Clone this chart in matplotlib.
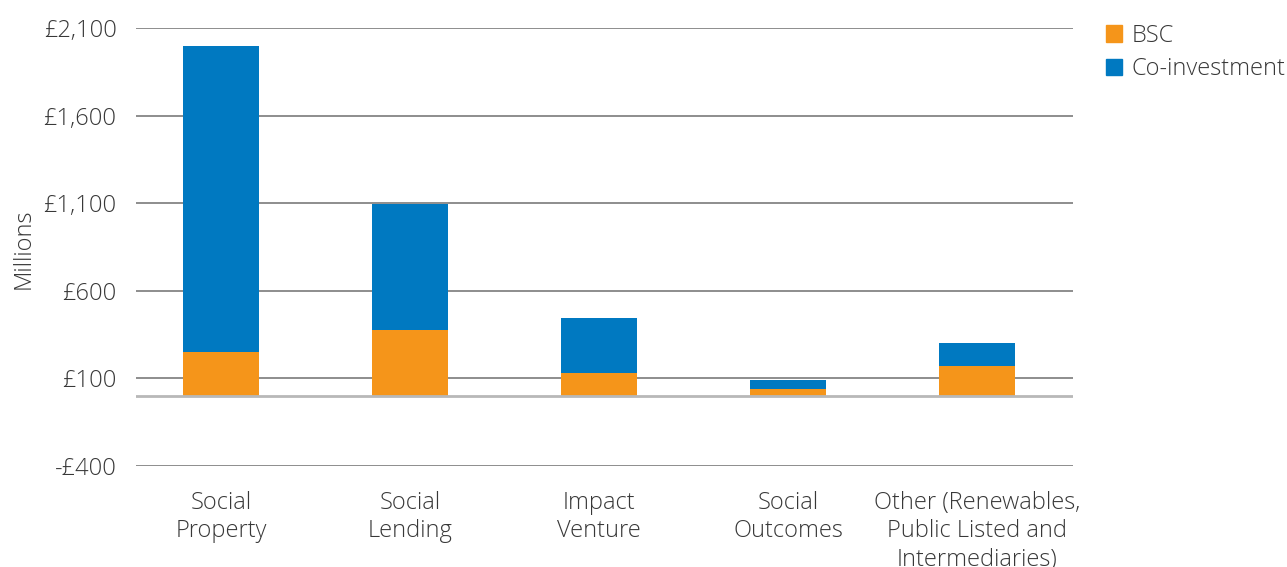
import matplotlib
matplotlib.use("Agg")
import matplotlib.pyplot as plt
from matplotlib.patches import Patch
from matplotlib.ticker import FuncFormatter

# —————— data (£ millions) ——————
categories = [
    "Social\nProperty",
    "Social\nLending",
    "Impact\nVenture",
    "Social\nOutcomes",
    "Other (Renewables,\nPublic Listed and\nIntermediaries)",
]
bsc = [250, 374, 129, 38, 169]
co_investment = [1750, 720, 314, 51, 131]
y_ticks = [-400, 100, 600, 1100, 1600, 2100]

ORANGE = "#F5951A"
BLUE = "#0079C1"
TEXT = "#383838"
FS = 17

plt.rcParams["font.family"] = ["Open Sans", "DejaVu Sans"]

fig = plt.figure(figsize=(12.87, 5.67), dpi=100)
ax = fig.add_axes([0.1057, 0.1781, 0.7280, 0.7725])

x = list(range(len(categories)))
ax.bar(x, bsc, width=0.40, color=ORANGE, zorder=3)
ax.bar(x, co_investment, width=0.40, bottom=bsc, color=BLUE, zorder=3)

ax.set_ylim(-400, 2100)
ax.set_xlim(-0.45, 4.508)
ax.set_yticks(y_ticks)
ax.yaxis.set_major_formatter(
    FuncFormatter(lambda v, _: ("-" if v < 0 else "") + f"£{abs(v):,.0f}"))
ax.grid(axis="y", color="#858585", linewidth=1.3, zorder=0)
ax.axhline(0, color="#b8b8b8", linewidth=2.0, zorder=4)

ax.set_xticks(x)
ax.set_xticklabels(categories, fontsize=FS, color=TEXT, fontweight="light",
                   linespacing=1.24)
for lbl in ax.get_yticklabels():
    lbl.set_fontsize(FS)
    lbl.set_color(TEXT)
    lbl.set_fontweight("light")
ax.tick_params(axis="y", length=0, pad=14)
ax.tick_params(axis="x", length=0, pad=18)
for s in ax.spines.values():
    s.set_visible(False)

ax.set_ylabel("Millions", fontsize=FS, color=TEXT, fontweight="light")
ax.yaxis.set_label_coords(-0.107, 0.495)

handles = [Patch(color=ORANGE, label="BSC"),
           Patch(color=BLUE, label="Co-investment")]
leg = fig.legend(handles=handles, loc="upper left",
                 bbox_to_anchor=(0.859, 0.958), frameon=False,
                 handlelength=0.7, handleheight=0.7, handletextpad=0.4,
                 labelspacing=0.4, borderaxespad=0, borderpad=0,
                 prop={"size": FS, "weight": "light"})
for t in leg.get_texts():
    t.set_color(TEXT)

fig.savefig("out.png", dpi=100)
